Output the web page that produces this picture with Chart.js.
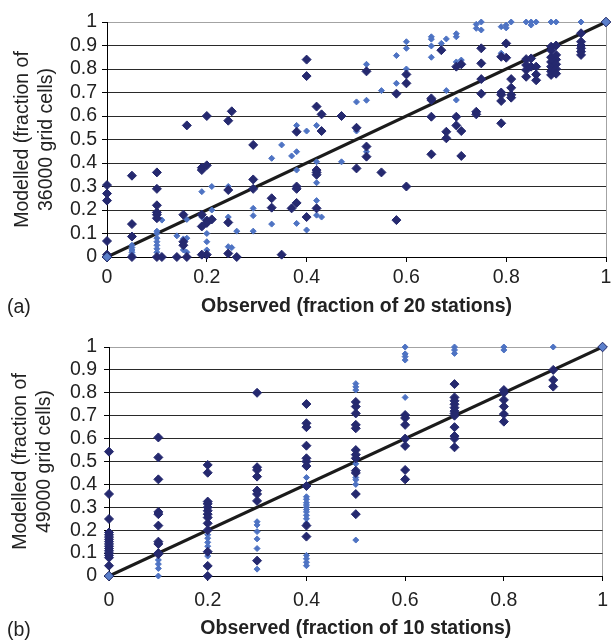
<!DOCTYPE html>
<html>
<head>
<meta charset="utf-8">
<script src="https://cdn.jsdelivr.net/npm/chart.js@4.4.0/dist/chart.umd.min.js"></script>
<style>
  body { margin: 0; background: #fff; }
  #wrap { position: relative; width: 616px; height: 640px; }
  .panel { position: absolute; left: 0; width: 616px; height: 320px; }
  .tag { position: absolute; left: 7px; font: 19.5px 'Liberation Sans', Arial, sans-serif; color: #222; line-height: 24px; }
</style>
</head>
<body>
<div id="wrap">
  <div class="panel" style="top:0"><canvas id="chart-a" width="616" height="320"></canvas></div>
  <div class="panel" style="top:320px"><canvas id="chart-b" width="616" height="320"></canvas></div>
  <div class="tag" style="top:294px">(a)</div>
  <div class="tag" style="top:617px">(b)</div>
</div>
<script>
'use strict';

// Data********** //
let xTickValues = [0, 0.2, 0.4, 0.6, 0.8, 1];
let yTickValues = [0, 0.1, 0.2, 0.3, 0.4, 0.5, 0.6, 0.7, 0.8, 0.9, 1];

// 1:1 line
let diagObs = [0, 1];
let diagMod = [0, 1];

// (a) 20 stations - dark series, one list of modelled values per observed value
let topDarkObs = [0, 0.05, 0.1, 0.11, 0.14, 0.153, 0.16, 0.19, 0.2, 0.21, 0.243, 0.25, 0.26, 0.293, 0.33, 0.35, 0.37, 0.38, 0.4, 0.42, 0.43, 0.47, 0.5, 0.52, 0.55, 0.58, 0.6, 0.65, 0.67, 0.68, 0.7, 0.71, 0.74, 0.75, 0.79, 0.8, 0.81, 0.84, 0.85, 0.86, 0.89, 0.9, 0.95];
let topDarkMod = [
  [0.306, 0.27, 0.24, 0.068, 0.01, 0],
  [0.346, 0.14, 0.087, 0],
  [0.36, 0.29, 0.22, 0.19, 0.18, 0.165, 0],
  [0],
  [0],
  [0.18, 0.065, 0.05],
  [0.56, 0],
  [0.38, 0.37, 0.18, 0.13, 0.01],
  [0.6, 0.39, 0.155, 0.145, 0.01],
  [0.16],
  [0.58, 0.285, 0.147, 0.015],
  [0.62],
  [0],
  [0.477, 0.33, 0.29],
  [0.25, 0.21],
  [0.01],
  [0.207],
  [0.533, 0.3, 0.29, 0.23],
  [0.84, 0.77, 0.17],
  [0.64, 0.37, 0.36, 0.35, 0.207],
  [0.607, 0.536],
  [0.6],
  [0.55, 0.377],
  [0.79, 0.47, 0.427],
  [0.36],
  [0.695, 0.157],
  [0.777, 0.739, 0.3],
  [0.675, 0.668, 0.597, 0.437],
  [0.88],
  [0.533, 0.505],
  [0.81, 0.597, 0.56],
  [0.82, 0.536, 0.43],
  [0.618, 0.607],
  [0.888, 0.824, 0.757, 0.695],
  [0.852, 0.7, 0.69, 0.664, 0.569],
  [0.909, 0.848],
  [0.757, 0.72, 0.69, 0.678],
  [0.842, 0.817, 0.796, 0.767],
  [0.845, 0.81],
  [0.81, 0.777, 0.752],
  [0.895, 0.88, 0.85, 0.83, 0.81, 0.79, 0.775],
  [0.9, 0.86, 0.84, 0.82, 0.8, 0.78],
  [0.952, 0.916, 0.9, 0.888, 0.874, 0.86]
];

// (a) light series
let topLightObs = [0.05, 0.1, 0.11, 0.14, 0.153, 0.16, 0.19, 0.2, 0.21, 0.243, 0.25, 0.26, 0.293, 0.33, 0.35, 0.37, 0.38, 0.4, 0.42, 0.43, 0.47, 0.5, 0.52, 0.55, 0.58, 0.6, 0.65, 0.67, 0.68, 0.7, 0.71, 0.74, 0.75, 0.79, 0.8, 0.81, 0.84, 0.85, 0.86, 0.89, 0.9, 0.95];
let topLightMod = [
  [0.05, 0.04, 0.03, 0.02, 0.01, 0.005],
  [0.11, 0.1, 0.08, 0.065, 0.05, 0.035, 0.02],
  [0.157],
  [0.09],
  [0.077, 0.03],
  [0.16, 0.08, 0.02],
  [0.278, 0.17],
  [0.1, 0.065, 0.03],
  [0.3, 0.2],
  [0.3, 0.17, 0.044],
  [0.04],
  [0.11],
  [0.207, 0.176, 0.11],
  [0.42, 0.14],
  [0.477],
  [0.43],
  [0.56, 0.448, 0.37, 0.143],
  [0.536, 0.115],
  [0.56, 0.405, 0.316, 0.24, 0.178],
  [0.17],
  [0.405],
  [0.66, 0.536],
  [0.82, 0.667, 0.448],
  [0.708],
  [0.857, 0.739],
  [0.916, 0.888, 0.8],
  [0.937, 0.927, 0.898, 0.85],
  [0.909],
  [0.928, 0.708],
  [0.95, 0.937, 0.83, 0.668],
  [0.838],
  [0.99, 0.973],
  [1, 0.966],
  [0.98, 0.867],
  [0.987, 0.975],
  [1],
  [1],
  [1, 0.987],
  [1],
  [1],
  [1],
  [1]
];

// (b) 10 stations
let bottomDarkObs = [0, 0.1, 0.2, 0.3, 0.4, 0.5, 0.6, 0.7, 0.8, 0.9];
let bottomDarkMod = [
  [0.543, 0.358, 0.249, 0.19, 0.18, 0.17, 0.16, 0.15, 0.14, 0.13, 0.12, 0.11, 0.1, 0.09, 0.08, 0.045],
  [0.605, 0.518, 0.422, 0.28, 0.27, 0.22, 0.15, 0.14, 0.1, 0.095],
  [0.485, 0.451, 0.325, 0.315, 0.3, 0.285, 0.27, 0.255, 0.23, 0.2, 0.106, 0.044, 0],
  [0.8, 0.475, 0.463, 0.434, 0.373, 0.358, 0.328, 0.067],
  [0.751, 0.667, 0.65, 0.569, 0.514, 0.5, 0.48, 0.393, 0.22, 0.172],
  [0.76, 0.74, 0.71, 0.66, 0.645, 0.55, 0.53, 0.514, 0.46, 0.45, 0.358, 0.27],
  [0.703, 0.69, 0.66, 0.6, 0.568, 0.463, 0.422],
  [0.838, 0.78, 0.765, 0.75, 0.735, 0.72, 0.71, 0.7, 0.65, 0.611, 0.6, 0.562],
  [0.812, 0.8, 0.769, 0.74, 0.707, 0.674],
  [0.9, 0.856, 0.827]
];
let bottomLightObs = [0.1, 0.2, 0.3, 0.4, 0.5, 0.6, 0.7, 0.8, 0.9];
let bottomLightMod = [
  [0.07, 0.052, 0.033, 0],
  [0.18, 0.165, 0.147, 0.13, 0.11, 0.1, 0.087],
  [0.237, 0.223, 0.194, 0.162, 0.12, 0.03],
  [0.43, 0.346, 0.335, 0.32, 0.31, 0.3, 0.29, 0.28, 0.265, 0.25, 0.23, 0.09, 0.075, 0.06, 0.045],
  [0.84, 0.826, 0.812, 0.49, 0.43, 0.42, 0.4, 0.157],
  [1, 0.97, 0.958, 0.943, 0.78, 0.594],
  [1, 0.987, 0.972],
  [1, 0.987],
  [1]
];

// Styles********//
let fontFamily = "'Liberation Sans', Arial, sans-serif";
let textColor = '#222';
let darkBlue = '#25296f';
let lightBlue = '#4e73c3';

// Helper Functions********//
function toPoints(obs, mod) {
  let points = [];
  for (let i = 0; i < obs.length; i++) {
    for (let j = 0; j < mod[i].length; j++) {
      points.push({ x: obs[i], y: mod[i][j] });
    }
  }
  return points;
}

function diagPoints() {
  return diagObs.map((x, i) => ({ x: x, y: diagMod[i] }));
}

function renderChart(canvasId, p) {
  let ctx = document.getElementById(canvasId);

  let chartObj = {
    type: 'scatter',
    data: {
      datasets: [
        { // end markers of the 1:1 line sit on top
          data: diagPoints(),
          pointStyle: 'rectRot',
          pointRadius: 4.8,
          backgroundColor: '#5b7fcb',
          borderColor: '#1c2463',
          borderWidth: 1,
          clip: false
        },
        {
          data: toPoints(p.darkObs, p.darkMod),
          pointStyle: 'rectRot',
          pointRadius: 4.5,
          backgroundColor: darkBlue,
          borderColor: darkBlue,
          borderWidth: 1,
          clip: false
        },
        {
          data: toPoints(p.lightObs, p.lightMod),
          pointStyle: 'rectRot',
          pointRadius: 3,
          backgroundColor: lightBlue,
          borderColor: lightBlue,
          borderWidth: 1,
          clip: false
        },
        {
          data: diagPoints(),
          showLine: true,
          borderColor: '#1b1b1b',
          borderWidth: 3.2,
          pointRadius: 0
        }
      ]
    },
    options: {
      responsive: false,
      animation: false,
      layout: { padding: { top: p.top, right: 10, bottom: 0, left: 0 } },
      plugins: { legend: { display: false }, tooltip: { enabled: false } },
      scales: {
        x: {
          type: 'linear',
          min: 0,
          max: 1,
          afterBuildTicks: s => { s.ticks = xTickValues.map(v => ({ value: v })); },
          afterFit: s => { s.height = p.xHeight; },
          ticks: {
            color: textColor,
            padding: p.xPad,
            autoSkip: false,
            maxRotation: 0,
            font: { family: fontFamily, size: 19.5 },
            callback: v => String(v)
          },
          grid: {
            drawOnChartArea: true,
            color: c => (c.tick && c.tick.value === 1) ? '#a3a3a3' : 'rgba(0,0,0,0)',
            tickColor: '#000',
            tickLength: 5
          },
          border: { display: true, color: '#000', width: 1 },
          title: {
            display: true,
            text: p.xTitle,
            color: textColor,
            font: { family: fontFamily, size: 19.5, weight: 'bold' },
            padding: { top: 0, bottom: p.xTitlePad }
          }
        },
        y: {
          min: 0,
          max: 1,
          afterBuildTicks: s => { s.ticks = yTickValues.map(v => ({ value: v })); },
          afterFit: s => { s.width = p.yWidth; },
          ticks: {
            color: textColor,
            padding: p.yPad,
            autoSkip: false,
            font: { family: fontFamily, size: 19.5 },
            callback: v => String(v)
          },
          grid: {
            color: c => (c.tick && c.tick.value === 1) ? '#a3a3a3' : '#2a2a2a',
            tickColor: '#000',
            tickLength: 5
          },
          border: { display: true, color: '#000', width: 1 },
          title: {
            display: true,
            text: p.yTitle,
            color: textColor,
            font: { family: fontFamily, size: 19.5, lineHeight: 1.25 },
            padding: { top: p.yTitlePad, bottom: 0 }
          }
        }
      }
    }
  };

  new Chart(ctx, chartObj);
}

// Executable Code********//
renderChart('chart-a', {
  darkObs: topDarkObs, darkMod: topDarkMod,
  lightObs: topLightObs, lightMod: topLightMod,
  top: 22, xHeight: 63, yWidth: 107, xPad: 4, yPad: 5, xTitlePad: 2, yTitlePad: 10,
  xTitle: 'Observed (fraction of 20 stations)',
  yTitle: ['Modelled (fraction of', '36000 grid cells)']
});

renderChart('chart-b', {
  darkObs: bottomDarkObs, darkMod: bottomDarkMod,
  lightObs: bottomLightObs, lightMod: bottomLightMod,
  top: 27, xHeight: 64, yWidth: 109, xPad: 8, yPad: 7, xTitlePad: 0, yTitlePad: 8,
  xTitle: 'Observed (fraction of 10 stations)',
  yTitle: ['Modelled (fraction of', '49000 grid cells)']
});
</script>
</body>
</html>
